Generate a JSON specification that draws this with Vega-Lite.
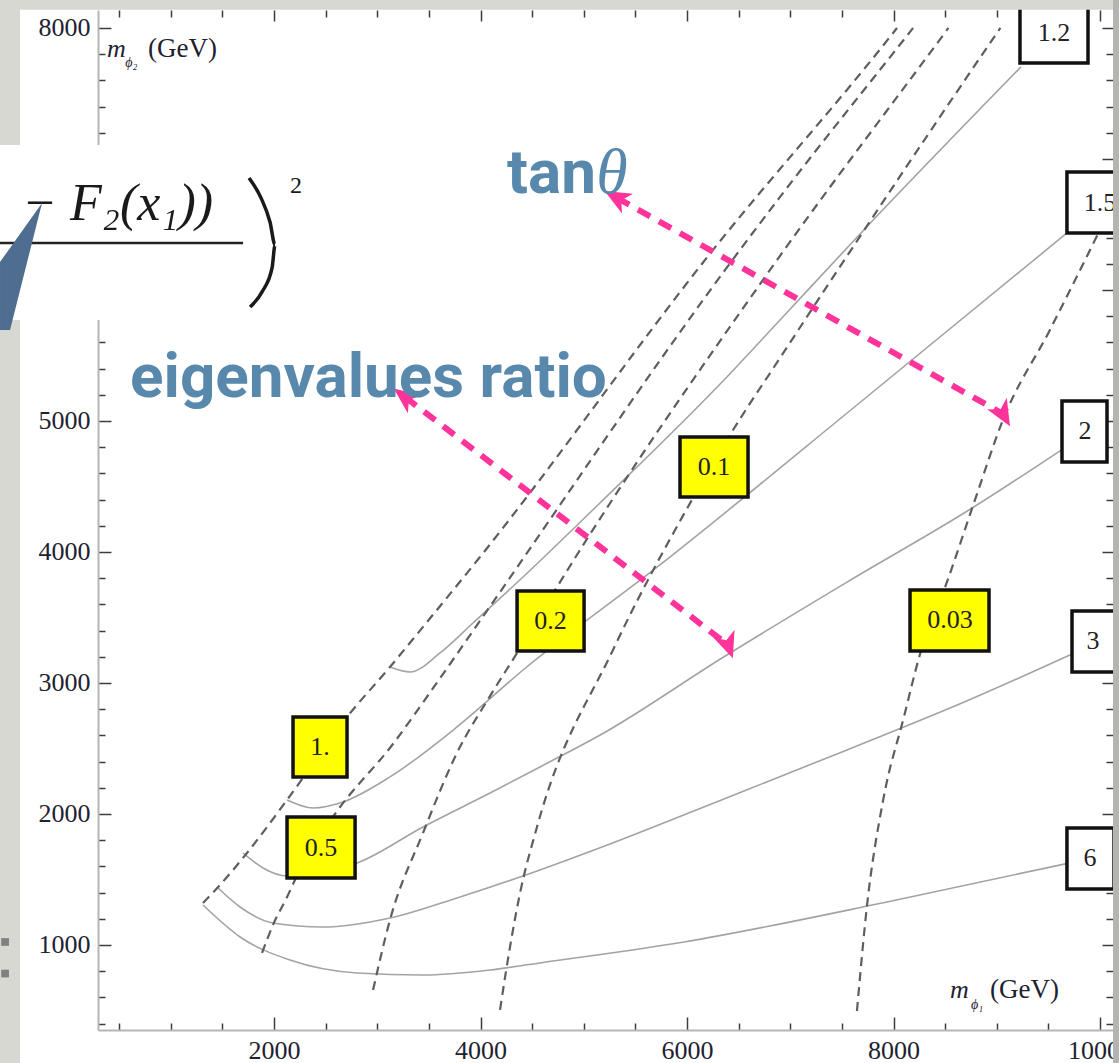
{
  "$schema": "https://vega.github.io/schema/vega-lite/v6.json",
  "width": 1015,
  "height": 1020,
  "autosize": {"type": "none"},
  "padding": {"left": 98, "top": 10, "right": 6, "bottom": 33},
  "background": "#ffffff",
  "config": {"view": {"stroke": null}},
  "resolve": {"axis": {"x": "independent", "y": "independent"}},
  "datasets": {
    "solid": [
      {"c": "6", "x": 1312, "y": 1305}, {"c": "6", "x": 1671, "y": 1061}, {"c": "6", "x": 2155, "y": 885}, {"c": "6", "x": 2804, "y": 786}, {"c": "6", "x": 3443, "y": 771}, {"c": "6", "x": 4092, "y": 809}, {"c": "6", "x": 4576, "y": 863}, {"c": "6", "x": 5971, "y": 1023}, {"c": "6", "x": 7937, "y": 1328}, {"c": "6", "x": 9700, "y": 1625},
      {"c": "3", "x": 1458, "y": 1435}, {"c": "3", "x": 1671, "y": 1290}, {"c": "3", "x": 1990, "y": 1168}, {"c": "3", "x": 2474, "y": 1137}, {"c": "3", "x": 3123, "y": 1206}, {"c": "3", "x": 3772, "y": 1359}, {"c": "3", "x": 4576, "y": 1573}, {"c": "3", "x": 5177, "y": 1748}, {"c": "3", "x": 6358, "y": 2115}, {"c": "3", "x": 7550, "y": 2489}, {"c": "3", "x": 8731, "y": 2870}, {"c": "3", "x": 9730, "y": 3221},
      {"c": "2", "x": 1700, "y": 1702}, {"c": "2", "x": 1893, "y": 1588}, {"c": "2", "x": 2126, "y": 1527}, {"c": "2", "x": 2804, "y": 1626}, {"c": "2", "x": 3443, "y": 1901}, {"c": "2", "x": 4092, "y": 2160}, {"c": "2", "x": 4576, "y": 2359}, {"c": "2", "x": 5177, "y": 2610}, {"c": "2", "x": 6358, "y": 3200}, {"c": "2", "x": 7550, "y": 3770}, {"c": "2", "x": 8731, "y": 4320}, {"c": "2", "x": 9640, "y": 4786},
      {"c": "1.5", "x": 2126, "y": 2107}, {"c": "1.5", "x": 2378, "y": 2046}, {"c": "1.5", "x": 2668, "y": 2092}, {"c": "1.5", "x": 3123, "y": 2283}, {"c": "1.5", "x": 3772, "y": 2664}, {"c": "1.5", "x": 4412, "y": 3099}, {"c": "1.5", "x": 5738, "y": 3901}, {"c": "1.5", "x": 7705, "y": 5160}, {"c": "1.5", "x": 9680, "y": 6435},
      {"c": "1.2", "x": 3123, "y": 3122}, {"c": "1.2", "x": 3317, "y": 3084}, {"c": "1.2", "x": 3608, "y": 3229}, {"c": "1.2", "x": 3927, "y": 3458}, {"c": "1.2", "x": 4412, "y": 3809}, {"c": "1.2", "x": 5157, "y": 4374}, {"c": "1.2", "x": 6358, "y": 5313}, {"c": "1.2", "x": 6901, "y": 5771}, {"c": "1.2", "x": 7685, "y": 6435}, {"c": "1.2", "x": 9235, "y": 7703}
    ],
    "dashed": [
      {"c": "1.", "x": 1312, "y": 1321}, {"c": "1.", "x": 1477, "y": 1458}, {"c": "1.", "x": 1738, "y": 1702}, {"c": "1.", "x": 2126, "y": 2107}, {"c": "1.", "x": 2707, "y": 2741}, {"c": "1.", "x": 3123, "y": 3122}, {"c": "1.", "x": 3443, "y": 3428}, {"c": "1.", "x": 3995, "y": 3962}, {"c": "1.", "x": 6252, "y": 6306}, {"c": "1.", "x": 7966, "y": 7932}, {"c": "1.", "x": 8034, "y": 8000},
      {"c": "0.5", "x": 1884, "y": 939}, {"c": "0.5", "x": 1990, "y": 1153}, {"c": "0.5", "x": 2126, "y": 1366}, {"c": "0.5", "x": 2203, "y": 1496}, {"c": "0.5", "x": 2571, "y": 1977}, {"c": "0.5", "x": 3152, "y": 2534}, {"c": "0.5", "x": 3540, "y": 2960}, {"c": "0.5", "x": 4000, "y": 3480}, {"c": "0.5", "x": 6513, "y": 6306}, {"c": "0.5", "x": 6901, "y": 6710}, {"c": "0.5", "x": 8160, "y": 7970}, {"c": "0.5", "x": 8190, "y": 8000},
      {"c": "0.2", "x": 2959, "y": 656}, {"c": "0.2", "x": 3123, "y": 1191}, {"c": "0.2", "x": 3443, "y": 1855}, {"c": "0.2", "x": 3772, "y": 2466}, {"c": "0.2", "x": 4092, "y": 2900}, {"c": "0.2", "x": 4354, "y": 3229}, {"c": "0.2", "x": 4741, "y": 3733}, {"c": "0.2", "x": 6804, "y": 6153}, {"c": "0.2", "x": 8518, "y": 7985}, {"c": "0.2", "x": 8532, "y": 8000},
      {"c": "0.1", "x": 4189, "y": 504}, {"c": "0.1", "x": 4238, "y": 756}, {"c": "0.1", "x": 4383, "y": 1397}, {"c": "0.1", "x": 4547, "y": 1901}, {"c": "0.1", "x": 5283, "y": 3252}, {"c": "0.1", "x": 6058, "y": 4412}, {"c": "0.1", "x": 6416, "y": 4893}, {"c": "0.1", "x": 6901, "y": 5481}, {"c": "0.1", "x": 9002, "y": 7962}, {"c": "0.1", "x": 9035, "y": 8000},
      {"c": "0.03", "x": 7646, "y": 496}, {"c": "0.03", "x": 7743, "y": 1298}, {"c": "0.03", "x": 7898, "y": 2099}, {"c": "0.03", "x": 8101, "y": 2741}, {"c": "0.03", "x": 8257, "y": 3221}, {"c": "0.03", "x": 8518, "y": 3771}, {"c": "0.03", "x": 8789, "y": 4397}, {"c": "0.03", "x": 9060, "y": 5008}, {"c": "0.03", "x": 9515, "y": 5695}, {"c": "0.03", "x": 9999, "y": 6458}, {"c": "0.03", "x": 10126, "y": 6664}
    ],
    "boxes": [
      {"k": "tan", "x": 2184, "x2": 2707, "y": 2283, "y2": 2741},
      {"k": "tan", "x": 2126, "x2": 2785, "y": 1511, "y2": 1977},
      {"k": "tan", "x": 4354, "x2": 5003, "y": 3244, "y2": 3702},
      {"k": "tan", "x": 5932, "x2": 6591, "y": 4420, "y2": 4878},
      {"k": "tan", "x": 8160, "x2": 8925, "y": 3244, "y2": 3710},
      {"k": "ratio", "x": 9225, "x2": 9884, "y": 7733, "y2": 8300},
      {"k": "ratio", "x": 9680, "x2": 10339, "y": 6435, "y2": 6901},
      {"k": "ratio", "x": 9632, "x2": 10068, "y": 4687, "y2": 5153},
      {"k": "ratio", "x": 9729, "x2": 10145, "y": 3084, "y2": 3550},
      {"k": "ratio", "x": 9680, "x2": 10136, "y": 1428, "y2": 1893}
    ],
    "labels": [
      {"t": "1.", "x": 2445, "y": 2512}, {"t": "0.5", "x": 2455, "y": 1740}, {"t": "0.2", "x": 4678, "y": 3473}, {"t": "0.1", "x": 6262, "y": 4649}, {"t": "0.03", "x": 8547, "y": 3481},
      {"t": "1.2", "x": 9554, "y": 7960}, {"t": "1.5", "x": 10000, "y": 6664}, {"t": "2", "x": 9854, "y": 4924}, {"t": "3", "x": 9932, "y": 3321}, {"t": "6", "x": 9903, "y": 1664}
    ],
    "arrows": [
      {"a": "t", "e": "s", "x": 5322, "y": 6703}, {"a": "t", "e": "f", "x": 9060, "y": 5054},
      {"a": "e", "e": "s", "x": 3269, "y": 5183}, {"a": "e", "e": "f", "x": 6397, "y": 3290}
    ],
    "paren": [
      {"i": 0, "x": 1758, "y": 6855}, {"i": 1, "x": 1874, "y": 6703}, {"i": 2, "x": 1961, "y": 6519}, {"i": 3, "x": 2010, "y": 6344}, {"i": 4, "x": 1981, "y": 6168}, {"i": 5, "x": 1884, "y": 5985}, {"i": 6, "x": 1768, "y": 5870}
    ],
    "wedge": [
      {"x": -654, "y": 5695, "y2": 6214}, {"x": -557, "y": 5695, "y2": 6321}, {"x": -247, "y": 6664, "y2": 6664}
    ]
  },
  "encoding": {
    "x": {"field": "x", "type": "quantitative", "scale": {"domain": [295, 10126], "nice": false, "zero": false}, "axis": null},
    "y": {"field": "y", "type": "quantitative", "scale": {"domain": [351, 8137], "nice": false, "zero": false}, "axis": null}
  },
  "layer": [
    {
      "data": {"name": "solid"},
      "mark": {"type": "line", "interpolate": "monotone", "color": "#a3a3a3", "strokeWidth": 1.6},
      "encoding": {
        "x": {
          "field": "x", "type": "quantitative",
          "scale": {"domain": [295, 10126], "nice": false, "zero": false},
          "axis": {
            "orient": "bottom", "title": null,
            "values": [500, 1000, 1500, 2000, 2500, 3000, 3500, 4000, 4500, 5000, 5500, 6000, 6500, 7000, 7500, 8000, 8500, 9000, 9500, 10000],
            "labelExpr": "datum.value % 2000 === 0 ? '' + datum.value : ''",
            "tickSize": {"condition": {"test": "datum.value % 2000 === 0", "value": -13}, "value": -7},
            "tickColor": "#3c3c3c", "tickWidth": 1.5,
            "domainColor": "#b5b5b5", "domainWidth": 2,
            "labelFont": "Liberation Serif", "labelFontSize": 26, "labelColor": "#1e2230",
            "labelPadding": 20, "labelOverlap": false, "labelFlush": false, "labelBound": false,
            "grid": false
          }
        },
        "y": {
          "field": "y", "type": "quantitative",
          "scale": {"domain": [351, 8137], "nice": false, "zero": false},
          "axis": {
            "orient": "left", "title": null,
            "values": [400, 600, 800, 1000, 1200, 1400, 1600, 1800, 2000, 2200, 2400, 2600, 2800, 3000, 3200, 3400, 3600, 3800, 4000, 4200, 4400, 4600, 4800, 5000, 5200, 5400, 5600, 5800, 6000, 6200, 6400, 6600, 6800, 7000, 7200, 7400, 7600, 7800, 8000],
            "labelExpr": "datum.value % 1000 === 0 ? '' + datum.value : ''",
            "tickSize": {"condition": {"test": "datum.value % 1000 === 0", "value": -13}, "value": -7},
            "tickColor": "#3c3c3c", "tickWidth": 1.5,
            "domainColor": "#b5b5b5", "domainWidth": 2,
            "labelFont": "Liberation Serif", "labelFontSize": 26, "labelColor": "#1e2230",
            "labelPadding": 21, "labelOverlap": false, "labelFlush": false, "labelBound": false,
            "grid": false
          }
        },
        "detail": {"field": "c", "type": "nominal"}
      }
    },
    {
      "data": {"name": "dashed"},
      "mark": {"type": "line", "interpolate": "monotone", "color": "#5e5e5e", "strokeWidth": 2.2, "strokeDash": [9, 6]},
      "encoding": {
        "x": {
          "field": "x", "type": "quantitative",
          "scale": {"domain": [295, 10126], "nice": false, "zero": false},
          "axis": {
            "orient": "top", "title": null, "labels": false, "domain": false,
            "values": [500, 1000, 1500, 2000, 2500, 3000, 3500, 4000, 4500, 5000, 5500, 6000, 6500, 7000, 7500, 8000, 8500, 9000, 9500, 10000],
            "tickSize": {"condition": {"test": "datum.value % 2000 === 0", "value": -11}, "value": -7},
            "tickColor": "#3c3c3c", "tickWidth": 1.5, "grid": false
          }
        },
        "y": {
          "field": "y", "type": "quantitative",
          "scale": {"domain": [351, 8137], "nice": false, "zero": false},
          "axis": {
            "orient": "right", "title": null, "labels": false, "domain": false,
            "values": [400, 600, 800, 1000, 1200, 1400, 1600, 1800, 2000, 2200, 2400, 2600, 2800, 3000, 3200, 3400, 3600, 3800, 4000, 4200, 4400, 4600, 4800, 5000, 5200, 5400, 5600, 5800, 6000, 6200, 6400, 6600, 6800, 7000, 7200, 7400, 7600, 7800, 8000],
            "tickSize": {"condition": {"test": "datum.value % 1000 === 0", "value": -11}, "value": -7},
            "tickColor": "#3c3c3c", "tickWidth": 1.5, "grid": false
          }
        },
        "detail": {"field": "c", "type": "nominal"}
      }
    },
    {
      "data": {"name": "arrows"},
      "mark": {"type": "line", "color": "#ff3399", "strokeWidth": 6, "strokeDash": [14, 10]},
      "encoding": {"detail": {"field": "a", "type": "nominal"}}
    },
    {
      "data": {"name": "arrows"},
      "transform": [{"filter": "datum.a === 't' && datum.e === 's'"}],
      "mark": {"type": "point", "shape": "M0,-1L0.8,0.85L0,0.35L-0.8,0.85Z", "size": 800, "filled": true, "color": "#ff3399", "opacity": 1, "angle": 299}
    },
    {
      "data": {"name": "arrows"},
      "transform": [{"filter": "datum.a === 't' && datum.e === 'f'"}],
      "mark": {"type": "point", "shape": "M0,-1L0.8,0.85L0,0.35L-0.8,0.85Z", "size": 800, "filled": true, "color": "#ff3399", "opacity": 1, "angle": 150}
    },
    {
      "data": {"name": "arrows"},
      "transform": [{"filter": "datum.a === 'e' && datum.e === 's'"}],
      "mark": {"type": "point", "shape": "M0,-1L0.8,0.85L0,0.35L-0.8,0.85Z", "size": 800, "filled": true, "color": "#ff3399", "opacity": 1, "angle": 307}
    },
    {
      "data": {"name": "arrows"},
      "transform": [{"filter": "datum.a === 'e' && datum.e === 'f'"}],
      "mark": {"type": "point", "shape": "M0,-1L0.8,0.85L0,0.35L-0.8,0.85Z", "size": 800, "filled": true, "color": "#ff3399", "opacity": 1, "angle": 160}
    },
    {
      "data": {"name": "boxes"},
      "mark": {"type": "rect", "stroke": "#111111", "strokeWidth": 3.5},
      "encoding": {
        "x2": {"field": "x2"},
        "y2": {"field": "y2"},
        "fill": {"field": "k", "type": "nominal", "scale": {"domain": ["tan", "ratio"], "range": ["#ffff00", "#ffffff"]}, "legend": null}
      }
    },
    {
      "data": {"name": "labels"},
      "mark": {"type": "text", "font": "Liberation Serif", "fontSize": 26, "color": "#222222", "align": "center", "baseline": "middle"},
      "encoding": {"text": {"field": "t"}}
    },
    {
      "data": {"values": [{"t": "tan", "x": 4257, "y": 6741}, {"t": "eigenvalues ratio", "x": 605, "y": 5183}]},
      "mark": {"type": "text", "font": "Roboto", "fontWeight": "bold", "fontSize": 62, "color": "#5889ad", "align": "left", "baseline": "alphabetic"},
      "encoding": {"text": {"field": "t"}}
    },
    {
      "data": {"values": [{"t": "θ", "x": 5122, "y": 6741}]},
      "mark": {"type": "text", "font": "Liberation Serif", "fontStyle": "italic", "fontSize": 64, "color": "#5889ad", "align": "left", "baseline": "alphabetic"},
      "encoding": {"text": {"field": "t"}}
    },
    {
      "data": {"values": [{"t": "m", "x": 383, "y": 7779}, {"t": "m", "x": 8547, "y": 595}]},
      "mark": {"type": "text", "font": "Liberation Serif", "fontStyle": "italic", "fontSize": 26, "color": "#1e2230", "align": "left", "baseline": "alphabetic"},
      "encoding": {"text": {"field": "t"}}
    },
    {
      "data": {"values": [{"t": "ϕ₂", "x": 560, "y": 7700}, {"t": "ϕ₁", "x": 8750, "y": 515}]},
      "mark": {"type": "text", "font": "Liberation Serif", "fontStyle": "italic", "fontSize": 14, "color": "#1e2230", "align": "left", "baseline": "alphabetic"},
      "encoding": {"text": {"field": "t"}}
    },
    {
      "data": {"values": [{"t": "(GeV)", "x": 780, "y": 7779}, {"t": "(GeV)", "x": 8934, "y": 595}]},
      "mark": {"type": "text", "font": "Liberation Serif", "fontSize": 27, "color": "#1e2230", "align": "left", "baseline": "alphabetic"},
      "encoding": {"text": {"field": "t"}}
    },
    {
      "data": {"values": [{"x": -654, "x2": -460, "y": 99, "y2": 8214}, {"x": -654, "x2": 10184, "y": 8138, "y2": 8214}]},
      "mark": {"type": "rect", "fill": "#d8d8d3"},
      "encoding": {"x2": {"field": "x2"}, "y2": {"field": "y2"}}
    },
    {
      "data": {"values": [{"x": 10126, "x2": 10184, "y": 99, "y2": 8214}]},
      "mark": {"type": "rect", "fill": "#b4b4b0"},
      "encoding": {"x2": {"field": "x2"}, "y2": {"field": "y2"}}
    },
    {
      "data": {"values": [{"x": -654, "x2": 2639, "y": 5771, "y2": 7107}]},
      "mark": {"type": "rect", "fill": "#ffffff"},
      "encoding": {"x2": {"field": "x2"}, "y2": {"field": "y2"}}
    },
    {
      "data": {"values": [{"t": "− F₂(x₁))", "x": -441, "y": 6535}]},
      "mark": {"type": "text", "font": "Liberation Serif", "fontStyle": "italic", "fontSize": 52, "color": "#1a1a1a", "align": "left", "baseline": "alphabetic"},
      "encoding": {"text": {"field": "t"}}
    },
    {
      "data": {"values": [{"x": -654, "x2": 1700, "y": 6359}]},
      "mark": {"type": "rule", "color": "#222222", "strokeWidth": 2.5},
      "encoding": {"x2": {"field": "x2"}}
    },
    {
      "data": {"name": "paren"},
      "mark": {"type": "line", "interpolate": "monotone", "color": "#1a1a1a", "strokeWidth": 3.5},
      "encoding": {"order": {"field": "i", "type": "quantitative"}}
    },
    {
      "data": {"values": [{"t": "2", "x": 2213, "y": 6741}]},
      "mark": {"type": "text", "font": "Liberation Serif", "fontSize": 24, "color": "#1a1a1a", "align": "center", "baseline": "alphabetic"},
      "encoding": {"text": {"field": "t"}}
    },
    {
      "data": {"name": "wedge"},
      "mark": {"type": "area", "color": "#4f6d8f", "opacity": 1},
      "encoding": {"y2": {"field": "y2"}}
    },
    {
      "data": {"values": [{"x": -605, "y": 1023}, {"x": -605, "y": 782}]},
      "mark": {"type": "point", "shape": "square", "filled": true, "size": 60, "color": "#808080", "opacity": 1}
    }
  ]
}
